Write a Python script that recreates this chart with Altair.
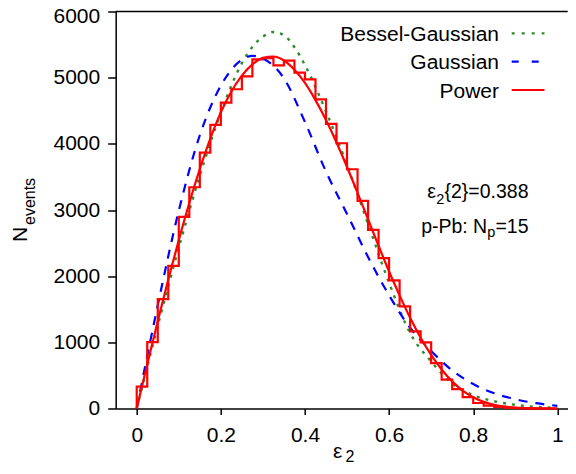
import altair as alt
import pandas as pd

FONT = "Liberation Sans"
RED = "#ff0000"
BLUE = "#0000ff"
GREEN = "#2e8b2e"

# plot origin (page px) and plot size
OX, OY = 115.7, 11.5
W, H = 452, 397
PX_PER_UNIT = 420.6

# ---------------- data ----------------
bin_edges = [0.0, 0.025, 0.05, 0.075, 0.1, 0.125, 0.15, 0.175, 0.2, 0.225,
             0.25, 0.275, 0.3, 0.325, 0.35, 0.375, 0.4, 0.425, 0.45, 0.475,
             0.5, 0.525, 0.55, 0.575, 0.6, 0.625, 0.65, 0.675, 0.7, 0.725,
             0.75, 0.775, 0.8, 0.825, 0.85, 0.875, 0.9, 0.925, 0.95, 0.975, 1.0]
counts = [332, 1003, 1652, 2155, 2896, 3344, 3867, 4286, 4622, 4825,
          5021, 5278, 5295, 5187, 5257, 5076, 4975, 4673, 4301, 4009,
          3616, 3138, 2700, 2273, 1935, 1543, 1165, 999, 687, 435,
          294, 173, 83, 43, 23, 10, 5, 2, 0, 0]

power_x = [0.0, 0.025, 0.05, 0.075, 0.1, 0.125, 0.15, 0.175, 0.2, 0.225,
           0.25, 0.275, 0.3, 0.325, 0.35, 0.375, 0.4, 0.425, 0.45, 0.475,
           0.5, 0.525, 0.55, 0.575, 0.6, 0.625, 0.65, 0.675, 0.7, 0.725,
           0.75, 0.775, 0.8, 0.825, 0.85, 0.875, 0.9, 0.925, 0.95, 0.975, 1.0]
power_y = [0, 670, 1320, 1950, 2545, 3105, 3620, 4080, 4475, 4790,
           5030, 5200, 5300, 5320, 5260, 5120, 4920, 4660, 4360, 4020,
           3650, 3260, 2860, 2460, 2070, 1710, 1370, 1070, 810, 590,
           410, 270, 170, 100, 55, 28, 12, 5, 2, 1, 0]

gauss_x = [0.0, 0.05, 0.1, 0.15, 0.2, 0.25, 0.275, 0.3, 0.35, 0.4, 0.45,
           0.5, 0.55, 0.6, 0.65, 0.7, 0.75, 0.8, 0.85, 0.9, 0.95, 1.0]
gauss_y = [0, 1560, 2990, 4130, 4880, 5270, 5330, 5290, 4990, 4330, 3580,
           2940, 2290, 1710, 1220, 870, 575, 370, 230, 140, 80, 40]

bg_x = [0.0, 0.05, 0.1, 0.15, 0.2, 0.25, 0.3, 0.325, 0.35, 0.375, 0.4,
        0.45, 0.5, 0.55, 0.6, 0.65, 0.7, 0.75, 0.8, 0.85, 0.9, 0.95, 1.0]
bg_y = [0, 1250, 2430, 3520, 4470, 5220, 5620, 5690, 5640, 5460, 5190,
        4490, 3680, 2790, 1900, 1140, 710, 380, 200, 110, 55, 25, 10]

legend_names = ["Bessel-Gaussian", "Gaussian", "Power"]
x_ticks = [0, 0.2, 0.4, 0.6, 0.8, 1.0]
y_ticks = [0, 1000, 2000, 3000, 4000, 5000, 6000]

# histogram outline vertices built from the bins
hx, hy = [bin_edges[0]], [0]
for lo, hi, c in zip(bin_edges[:-1], bin_edges[1:], counts):
    hx += [lo, hi]
    hy += [c, c]
hx.append(bin_edges[-1])
hy.append(0)
hist_df = pd.DataFrame({"x": hx, "y": hy, "i": range(len(hx))})

power_df = pd.DataFrame({"x": power_x, "y": power_y})
gauss_df = pd.DataFrame({"x": gauss_x, "y": gauss_y})
bg_df = pd.DataFrame({"x": bg_x, "y": bg_y})
one = pd.DataFrame({"a": [0]})

# ---------------- scales / axes ----------------
xs = alt.Scale(domain=[-0.05, -0.05 + W / PX_PER_UNIT], nice=False, zero=False)
ys = alt.Scale(domain=[0, 6000], nice=False)
axis_common = dict(title=None, grid=False, domainColor="black", tickColor="black",
                   domainWidth=1.5, tickWidth=1.5, labelFont=FONT, labelFontSize=21,
                   labelColor="black", labelFlush=False)
xaxis = alt.Axis(values=x_ticks, format=".1~f", tickSize=6, labelPadding=10,
                 **axis_common)
yaxis = alt.Axis(values=y_ticks, format="d", tickSize=8, labelPadding=8,
                 labelOffset={"condition": {"test": "datum.value == 6000", "value": 5},
                              "value": 0},
                 **axis_common)

X = alt.X("x:Q", scale=xs, axis=xaxis)
Y = alt.Y("y:Q", scale=ys, axis=yaxis)


def curve(df, color, dash=None, width=2.0):
    kw = dict(color=color, strokeWidth=width, interpolate="monotone")
    if dash:
        kw["strokeDash"] = dash
    return alt.Chart(df).mark_line(**kw).encode(x=X, y=Y)


def txt(s, px, py, size, align="left", angle=0):
    return alt.Chart(one).mark_text(
        text=s, font=FONT, fontSize=size, align=align, baseline="alphabetic",
        angle=angle, color="black"
    ).encode(x=alt.value(px - OX), y=alt.value(py - OY))


def sample(py, color, dash=None):
    kw = dict(color=color, strokeWidth=2.2)
    if dash:
        kw["strokeDash"] = dash
    return alt.Chart(one).mark_rule(**kw).encode(
        x=alt.value(511.7 - OX), x2=alt.value(544.5 - OX), y=alt.value(py - OY))


green_line = curve(bg_df, GREEN, [3, 6], 2.4)
blue_line = curve(gauss_df, BLUE, [9, 8], 2.2)
hist = alt.Chart(hist_df).mark_line(color=RED, strokeWidth=2.2).encode(
    x=X, y=Y, order=alt.Order("i:Q"))
red_line = curve(power_df, RED, None, 2.2)

top_rule = alt.Chart(one).mark_rule(color="black", strokeWidth=1.5).encode(
    x=alt.value(0), x2=alt.value(W), y=alt.value(0))

layers = [
    green_line, blue_line, hist, red_line, top_rule,
    # legend
    txt(legend_names[0], 499, 40.7, 21, "right"), sample(33.3, GREEN, [3, 7]),
    txt(legend_names[1], 499, 69.3, 21, "right"), sample(61.7, BLUE, [7, 13]),
    txt(legend_names[2], 499, 97.7, 21, "right"), sample(90, RED),
    # annotation
    txt("ε", 436.0, 198.3, 19.5, "right"),
    txt("2", 444.3, 204.0, 14.5, "right"),
    txt("{2}=0.388", 528.5, 198.3, 19.5, "right"),
    txt("p-Pb: N", 487.2, 233.3, 19.5, "right"),
    txt("p", 495.3, 237.0, 14.5, "right"),
    txt("=15", 528.5, 233.3, 19.5, "right"),
    # axis titles
    txt("ε", 333, 458.5, 21, "left"),
    txt("2", 345.5, 462.0, 16, "left"),
    txt("N", 27, 242, 21, "left", 270),
    txt("events", 35, 225, 16, "left", 270),
]

chart = alt.layer(*layers).properties(
    width=W, height=H,
    autosize=alt.AutoSizeParams(type="none"),
    padding={"left": OX - 8, "top": OY - 8, "right": 0, "bottom": 57},
).configure_view(stroke=None)

chart.save("out.html", embed_options={"renderer": "svg", "actions": False})
